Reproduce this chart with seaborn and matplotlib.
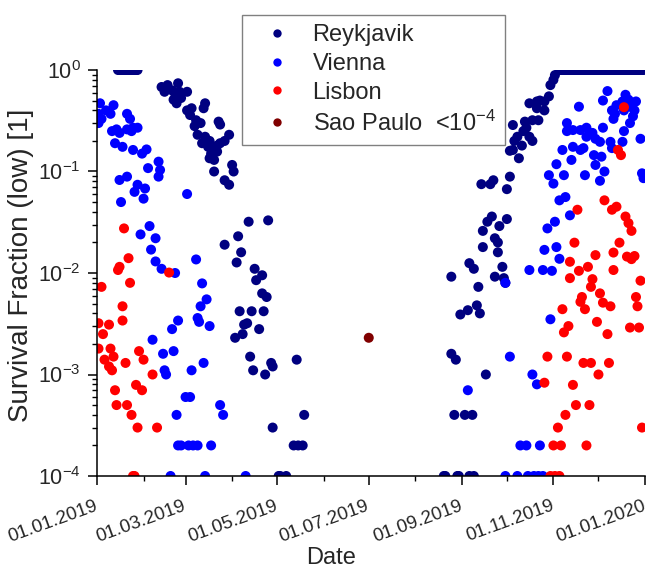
import matplotlib
matplotlib.use("Agg")
import matplotlib.pyplot as plt
import matplotlib.dates as mdates
import matplotlib.transforms as mtrans
from matplotlib.lines import Line2D
from matplotlib.ticker import LogLocator
import seaborn as sns
import pandas as pd

sns.set_theme(style="white")
plt.rcParams['font.family'] = ['Liberation Sans', 'DejaVu Sans']
plt.rcParams['mathtext.fontset'] = 'custom'
plt.rcParams['mathtext.rm'] = 'Liberation Sans'
plt.rcParams['mathtext.it'] = 'Liberation Sans:italic'
plt.rcParams['mathtext.bf'] = 'Liberation Sans:bold'

# ---------------- data (day = days after 01.01.2019, value = survival fraction) ----------
reykjavik_top_winter_days = [14, 15, 16, 17, 18, 19, 20, 21, 22, 23, 24, 25, 26, 27]
reykjavik_top_winter_vals = [1.0] * 14
reykjavik_top_dec_days = [308, 309, 310, 311, 312, 313, 314, 315, 316, 317, 318, 319, 320,
                          321, 322, 323, 324, 325, 326, 327, 328, 329, 330, 331, 332, 333,
                          334, 335, 336, 337, 338, 339, 340, 341, 342, 343, 344, 345, 346,
                          347, 348, 349, 350, 351, 352, 353, 354, 355, 356, 357, 358, 359,
                          360, 361, 362, 363, 364]
reykjavik_top_dec_vals = [1.0] * 57

reykjavik_points = [
    (43, 0.68), (47, 0.71), (50, 0.63), (54, 0.74), (45, 0.61), (52, 0.59), (55, 0.61),
    (60, 0.61), (53, 0.47), (56, 0.53), (51, 0.51), (60, 0.40), (63, 0.42), (62, 0.36),
    (72, 0.47), (71, 0.42), (66, 0.32), (65, 0.28), (69, 0.30), (81, 0.31), (82, 0.29),
    (67, 0.23), (72, 0.22), (70, 0.19), (75, 0.20), (74, 0.175), (78, 0.17), (80, 0.18),
    (82, 0.19), (85, 0.20), (88, 0.23), (76, 0.15), (80, 0.157), (75, 0.135), (78, 0.13),
    (90, 0.116), (91, 0.10), (78, 0.10), (85, 0.082), (88, 0.074),
    (114, 0.033), (101, 0.032), (94, 0.023), (85, 0.019), (96, 0.016), (93, 0.0127),
    (105, 0.011), (110, 0.0095), (106, 0.0085), (110, 0.0063), (113, 0.0058), (95, 0.0042),
    (103, 0.0042), (111, 0.0042), (98, 0.0031), (100, 0.0032), (108, 0.0028), (92, 0.0023),
    (97, 0.0025), (102, 0.0015), (104, 0.0011), (112, 0.001), (116, 0.0013), (117, 0.0012),
    (133, 0.0014), (138, 0.0004), (117, 0.0003), (131, 0.0002), (134, 0.0002), (137, 0.0002),
    (121, 0.0001), (122, 0.0001), (126, 0.0001),
    (231, 0.0001), (232, 0.0001), (240, 0.0001), (241, 0.0001), (248, 0.0001), (251, 0.0001),
    (238, 0.0004), (245, 0.0004), (250, 0.0004), (236, 0.0016), (239, 0.0014), (259, 0.001),
    (242, 0.0039), (247, 0.0043), (253, 0.0048), (255, 0.004), (236, 0.0092), (248, 0.0125),
    (251, 0.011), (254, 0.0073), (256, 0.075), (262, 0.075), (264, 0.082), (273, 0.067),
    (275, 0.089), (263, 0.036), (260, 0.032), (273, 0.034), (268, 0.029), (257, 0.026),
    (265, 0.022), (267, 0.020), (257, 0.018), (267, 0.016), (270, 0.0115), (265, 0.0092),
    (271, 0.0089), (272, 0.008), (277, 0.287), (275, 0.16), (277, 0.163), (280, 0.22),
    (278, 0.2), (283, 0.18), (281, 0.135), (284, 0.25), (286, 0.27), (288, 0.22), (290, 0.2),
    (285, 0.31), (290, 0.32), (294, 0.32), (293, 0.42), (298, 0.40), (288, 0.47), (293, 0.49),
    (295, 0.5), (298, 0.49), (301, 0.55), (302, 0.71), (304, 0.8), (305, 0.89),
]

vienna_points = [
    (2, 0.47), (1, 0.37), (3, 0.33), (1, 0.30), (6, 0.40), (11, 0.45), (9, 0.37), (20, 0.37),
    (22, 0.33), (10, 0.25), (13, 0.26), (15, 0.24), (20, 0.26), (24, 0.27), (27, 0.27),
    (23, 0.25), (12, 0.19), (17, 0.175), (24, 0.163), (30, 0.15), (33, 0.165), (41, 0.125),
    (34, 0.108), (42, 0.1035), (41, 0.089), (15, 0.0825), (20, 0.089), (27, 0.074),
    (25, 0.063), (32, 0.068), (31, 0.054), (16, 0.05), (60, 0.06),
    (29, 0.024), (35, 0.029), (39, 0.022), (36, 0.017), (39, 0.013), (43, 0.011), (52, 0.010),
    (66, 0.0136), (70, 0.0079), (73, 0.0055), (69, 0.0047), (54, 0.0034), (67, 0.0036),
    (50, 0.0028), (37, 0.0022), (44, 0.0016), (51, 0.0017), (45, 0.0011), (46, 0.001),
    (68, 0.0033), (75, 0.003), (63, 0.0011), (71, 0.0013), (59, 0.0006), (62, 0.0006),
    (53, 0.0004), (82, 0.0005), (84, 0.0004), (54, 0.0002), (56, 0.0002), (61, 0.0002),
    (64, 0.0002), (67, 0.0002), (76, 0.0002), (49, 0.0001), (72, 0.0001), (99, 0.0001),
    (272, 0.0001), (280, 0.0001), (287, 0.0001), (291, 0.0001), (294, 0.0001), (297, 0.0001),
    (282, 0.0002), (286, 0.0002), (295, 0.0002), (247, 0.0007), (275, 0.0015), (290, 0.001),
    (293, 0.0008), (302, 0.0035), (272, 0.008), (288, 0.0107), (297, 0.0107), (303, 0.0105),
    (298, 0.0169), (306, 0.018), (308, 0.0138), (300, 0.0275), (305, 0.032), (315, 0.037),
    (308, 0.052), (312, 0.056), (301, 0.092), (304, 0.076), (311, 0.092), (306, 0.118),
    (325, 0.092), (338, 0.10), (335, 0.081), (363, 0.096), (364, 0.086), (310, 0.163),
    (316, 0.13), (317, 0.175), (324, 0.17), (322, 0.163), (331, 0.145), (336, 0.14),
    (332, 0.116), (343, 0.17), (313, 0.30), (313, 0.25), (317, 0.256), (322, 0.256),
    (326, 0.27), (330, 0.24), (337, 0.27), (332, 0.21), (326, 0.22), (335, 0.196),
    (342, 0.196), (350, 0.196), (351, 0.25), (362, 0.21), (321, 0.435), (340, 0.62),
    (337, 0.50), (352, 0.57), (354, 0.51), (350, 0.49), (346, 0.45), (359, 0.49), (343, 0.40),
    (345, 0.37), (351, 0.40), (355, 0.435), (358, 0.40), (357, 0.35), (344, 0.33), (355, 0.30),
]

lisbon_points = [
    (18, 0.0275), (21, 0.014), (14, 0.0107), (15, 0.0115), (22, 0.008), (3, 0.0073),
    (17, 0.0047), (48, 0.0101), (17, 0.0034), (1, 0.0032), (8, 0.0031), (4, 0.0025),
    (1, 0.0018), (9, 0.0018), (5, 0.0014), (11, 0.0015), (8, 0.0012), (10, 0.0011),
    (19, 0.0013), (28, 0.0017), (31, 0.0014), (37, 0.001), (26, 0.00079), (30, 0.0007),
    (12, 0.0007), (13, 0.0005), (20, 0.0005), (23, 0.0004), (27, 0.0003), (40, 0.0003),
    (24, 0.0001), (25, 0.0001),
    (302, 0.0001), (305, 0.0001), (308, 0.0001), (304, 0.0002), (309, 0.0002), (326, 0.0002),
    (307, 0.0003), (363, 0.0003), (312, 0.0004), (319, 0.0005), (328, 0.0005),
    (298, 0.00083), (317, 0.00079), (334, 0.001), (300, 0.0015), (313, 0.0015),
    (324, 0.0013), (329, 0.0013), (341, 0.0013), (310, 0.0044), (322, 0.0052), (325, 0.0044),
    (337, 0.0051), (342, 0.0047), (360, 0.0047), (333, 0.0033), (314, 0.003), (311, 0.0026),
    (340, 0.0025), (355, 0.0029), (361, 0.0029), (323, 0.0058), (335, 0.0063), (359, 0.0058),
    (315, 0.0089), (330, 0.0087), (362, 0.0084), (329, 0.0073), (321, 0.0105), (327, 0.0115),
    (344, 0.0107), (315, 0.0129), (332, 0.015), (353, 0.0145), (356, 0.0137), (358, 0.0147),
    (344, 0.0159), (318, 0.0199), (348, 0.0199), (320, 0.042), (338, 0.052), (343, 0.042),
    (346, 0.045), (352, 0.036), (354, 0.031), (356, 0.026), (347, 0.163), (349, 0.145),
    (351, 0.43),
]

sao_paulo_points = [(181, 0.0023)]

cities = ["Reykjavik", "Vienna", "Lisbon", "Sao Paulo"]
colors = {"Reykjavik": "#000080", "Vienna": "#0000ff", "Lisbon": "#ff0000", "Sao Paulo": "#800000"}
legend_labels = ["Reykjavik", "Vienna", "Lisbon", r"Sao Paulo  <$\mathdefault{10^{-4}}$"]

# ---------------- build table ----------------
rows = []
for d, v in zip(reykjavik_top_winter_days, reykjavik_top_winter_vals):
    rows.append(("Reykjavik", d, v))
for d, v in reykjavik_points:
    rows.append(("Reykjavik", d, v))
for d, v in zip(reykjavik_top_dec_days, reykjavik_top_dec_vals):
    rows.append(("Reykjavik", d, v))
for d, v in vienna_points:
    rows.append(("Vienna", d, v))
for d, v in lisbon_points:
    rows.append(("Lisbon", d, v))
for d, v in sao_paulo_points:
    rows.append(("Sao Paulo", d, v))
df = pd.DataFrame(rows, columns=["city", "day", "value"])
df["date"] = pd.Timestamp("2019-01-01") + pd.to_timedelta(df["day"], unit="D")

# ---------------- figure ----------------
W, H = 648, 568
fig = plt.figure(figsize=(W / 100, H / 100), dpi=100)
ax = fig.add_axes([97 / W, 92 / H, 548 / W, 406 / H])

sns.scatterplot(data=df, x="date", y="value", hue="city", hue_order=cities,
                palette=colors, s=52, linewidth=0, alpha=1, legend=False, ax=ax)

ax.set_yscale("log")
ax.set_ylim(1e-4, 1)
ax.set_xlim(pd.Timestamp("2019-01-01"), pd.Timestamp("2020-01-01"))

ax.xaxis.set_major_locator(mdates.MonthLocator(bymonth=[1, 3, 5, 7, 9, 11]))
ax.xaxis.set_minor_locator(mdates.MonthLocator())
ax.xaxis.set_major_formatter(mdates.DateFormatter("%d.%m.%Y"))
ax.yaxis.set_major_locator(LogLocator(base=10, numticks=10))
ax.yaxis.set_minor_locator(LogLocator(base=10, subs=range(2, 10), numticks=20))

for s in ["top", "right"]:
    ax.spines[s].set_visible(False)
for s in ["left", "bottom"]:
    ax.spines[s].set_color("black")
    ax.spines[s].set_linewidth(1.1)

ax.tick_params(axis="both", which="major", direction="out", length=6.5, width=1.1,
               color="black", bottom=True, left=True)
ax.tick_params(axis="both", which="minor", direction="out", length=3.5, width=1.0,
               color="black", bottom=True, left=True)
ax.tick_params(axis="x", which="major", labelsize=13.5, pad=9)
ax.tick_params(axis="y", which="major", labelsize=15.5, pad=5)
shift = mtrans.ScaledTranslation(-3 / 100, 0, fig.dpi_scale_trans)
for lab in ax.get_xticklabels():
    lab.set_rotation(20)
    lab.set_ha("right")
    lab.set_rotation_mode("anchor")
    lab.set_transform(lab.get_transform() + shift)

ax.set_xlabel("Date", fontsize=17)
ax.set_ylabel("Survival Fraction (low) [1]", fontsize=20)
ax.xaxis.set_label_coords(0.427, -0.175)
ax.yaxis.set_label_coords(-0.115, 0.52)
ax.grid(False)

handles = [Line2D([0], [0], marker="o", linestyle="", markersize=6,
                  markerfacecolor=colors[c], markeredgewidth=0) for c in cities]
leg = fig.legend(handles, legend_labels, loc="upper left",
                 bbox_to_anchor=(241.7 / W, 1 - 15 / H), bbox_transform=fig.transFigure,
                 fontsize=17, frameon=True, fancybox=False, framealpha=1,
                 edgecolor="#808080", handlelength=2.2, handletextpad=0.4,
                 borderpad=0.4, labelspacing=0.28, borderaxespad=0)
leg.get_frame().set_linewidth(1.0)

fig.savefig("out.png", dpi=100)
